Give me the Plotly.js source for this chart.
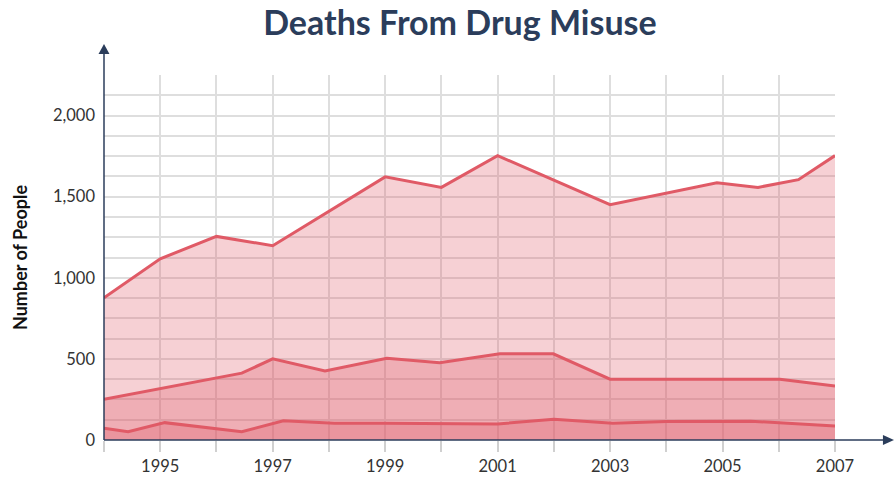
<!DOCTYPE html>
<html>
<head>
<meta charset="utf-8">
<script src="https://cdn.plot.ly/plotly-3.0.1.min.js"></script>
<style>html,body{margin:0;padding:0;background:#fff;}#chart{width:894px;height:481px;}</style>
</head>
<body>
<div id="chart"></div>
<script>
// Data (x in decimal years)
const topYears = [1994, 1995, 1996, 1997, 1999, 2000, 2001, 2003, 2004.9, 2005.63, 2006.35, 2007];
const topValues = [877, 1117, 1255, 1198, 1622, 1557, 1753, 1451, 1585, 1557, 1605, 1753];

const midYears = [1994, 1996.45, 1997, 1997.93, 1999.03, 1999.97, 2001.04, 2001.99, 2003, 2006.02, 2007];
const midValues = [251, 412, 500, 426, 504, 477, 531, 531, 375, 375, 333];

const lowYears = [1994, 1994.43, 1995.08, 1996.45, 1997.19, 1998.1, 1999, 2000, 2001, 2002, 2003.05, 2004, 2005.5, 2007];
const lowValues = [72, 51, 107, 51, 119, 103, 103, 103, 99, 128, 104, 114, 116, 86];

const tickYears = [1995, 1997, 1999, 2001, 2003, 2005, 2007];
const tickLabels = ['1995', '1997', '1999', '2001', '2003', '2005', '2007'];

const lineColor = '#e05a66';
const fillColor = 'rgba(222,86,100,0.28)';
const navy = '#2b3d5b';
const font = 'Lato, "Open Sans", sans-serif';

function areaTrace(x, y) {
  return {
    x: x, y: y, type: 'scatter', mode: 'lines', fill: 'tozeroy',
    fillcolor: fillColor, line: {color: lineColor, width: 3},
    hoverinfo: 'skip', showlegend: false
  };
}

const data = [areaTrace(topYears, topValues), areaTrace(midYears, midValues), areaTrace(lowYears, lowValues)];

const layout = {
  width: 894, height: 481,
  margin: {l: 104, r: 59, t: 75, b: 41},
  paper_bgcolor: '#fff', plot_bgcolor: '#fff',
  font: {family: font, color: '#333', size: 16},
  title: {text: '<b>Deaths From Drug Misuse</b>', x: 0.5145, xref: 'container', xanchor: 'center',
          y: 0.953, yref: 'container', yanchor: 'middle',
          font: {family: font, size: 34, color: navy}},
  xaxis: {
    range: [1994, 2007], tickvals: tickYears, ticktext: tickLabels,
    showgrid: true, gridcolor: '#dedede', gridwidth: 2,
    ticks: 'outside', ticklen: 11, tickwidth: 2, tickcolor: '#d0d0d0',
    minor: {dtick: 1, tick0: 1994, showgrid: true, gridcolor: '#dedede', gridwidth: 2,
            ticks: 'outside', ticklen: 11, tickwidth: 2, tickcolor: '#d0d0d0'},
    showline: false, zeroline: false, fixedrange: true,
    tickfont: {family: font, size: 16.5, color: '#333'}
  },
  yaxis: {
    range: [0, 2250], tickvals: [0, 500, 1000, 1500, 2000],
    ticktext: ['0', '500', '1,000', '1,500', '2,000'],
    showgrid: true, gridcolor: '#dedede', gridwidth: 2,
    minor: {dtick: 125, tick0: 0, showgrid: true, gridcolor: '#dedede', gridwidth: 2},
    showline: false, zeroline: false, ticks: '', ticklabelstandoff: 8,
    tickfont: {family: font, size: 16.5, color: '#333'},
    title: {text: '<b>Number of People</b>', standoff: 20, font: {family: font, size: 18, color: '#111'}},
    fixedrange: true
  },
  shapes: [
    {type: 'line', xref: 'paper', yref: 'paper', x0: 0, x1: 0, y0: 0, y1: 1.06, line: {color: navy, width: 1.5}, layer: 'above'},
    {type: 'path', xref: 'paper', yref: 'paper', path: 'M -0.0075 1.0575 L 0.0075 1.0575 L 0 1.0849 Z', fillcolor: navy, line: {color: navy, width: 0}, layer: 'above'},
    {type: 'line', xref: 'paper', yref: 'paper', x0: 0, x1: 1.072, y0: 0, y1: 0, line: {color: navy, width: 1.5}, layer: 'above'},
    {type: 'path', xref: 'paper', yref: 'paper', path: 'M 1.0656 -0.014 L 1.0656 0.014 L 1.0807 0 Z', fillcolor: navy, line: {color: navy, width: 0}, layer: 'above'}
  ],
  showlegend: false
};

Plotly.newPlot('chart', data, layout, {displayModeBar: false, staticPlot: true});
</script>
</body>
</html>
